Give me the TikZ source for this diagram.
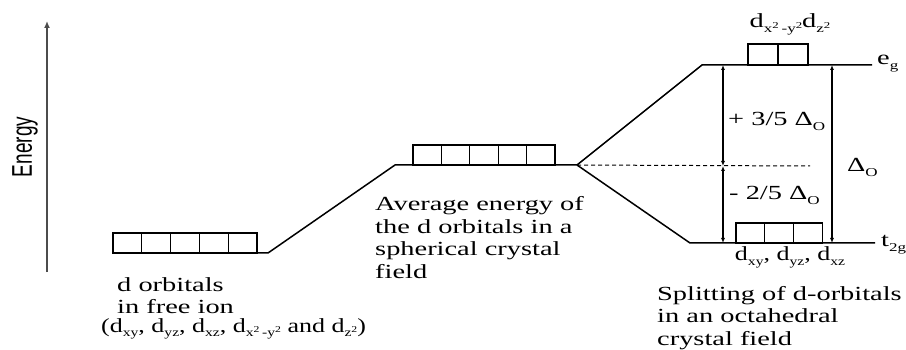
\documentclass[tikz,border=0pt]{standalone}
\usepackage{fontspec}
\setmainfont{Liberation Serif}
\setsansfont{Liberation Sans}
\usetikzlibrary{arrows.meta}
\newcommand{\sx}[1]{\scalebox{1.42}[1]{#1}}
\newcommand{\sxn}[1]{\scalebox{1.3}[1]{#1}}
\newcommand{\lns}[1]{\sx{\begin{tabular}[t]{@{}l@{}}#1\end{tabular}}}
\newcommand{\sbs}[1]{\raisebox{-4.5pt}{\fontsize{12}{12}\selectfont #1}}
\newcommand{\sps}[1]{\raisebox{4pt}{\fontsize{9}{9}\selectfont #1}}
\newcommand{\ds}[1]{d\sbs{#1}}
\begin{document}
\begin{tikzpicture}[x=1pt,y=-1pt,
  lvl/.style={line width=1.5pt},
  orb/.style={line width=1.2pt},
  dim/.style={line width=1.2pt,{Latex[length=5pt,width=4pt]}-{Latex[length=5pt,width=4pt]}},
  txt/.style={inner sep=0pt,anchor=base west,font=\fontsize{20}{22.5}\selectfont},
  ctxt/.style={txt,anchor=base}]
\useasboundingbox (0,0) rectangle (906,350);
% energy axis
\coordinate (ea) at (47,272);
\coordinate (eb) at (47,21);
\draw[line width=2.2pt,black!70,-{Latex[length=7pt,width=6pt]}] (ea) -- (eb);
\node[inner sep=0pt,font=\sffamily\fontsize{19}{20}\selectfont] (energy) at (25,147) {\scalebox{1.5}[1]{\rotatebox{90}{Energy}}};
% levels
\coordinate (l1) at (113,253); \coordinate (l2) at (268,253);
\coordinate (m1) at (395,165); \coordinate (m2) at (577,165);
\coordinate (e1) at (702,65);  \coordinate (e2) at (872,65);
\coordinate (t1) at (690,243); \coordinate (t2) at (875,243);
\draw[lvl] (l1) -- (l2) -- (m1) -- (m2) -- (e1) -- (e2);
\draw[lvl] (m2) -- (t1) -- (t2);
% boxes
\foreach \i in {0,...,4} \draw[orb] (113+\i*28.8,233) rectangle ++(28.8,20);
\foreach \i in {0,...,4} \draw[orb] (413+\i*28.4,145) rectangle ++(28.4,20);
\foreach \i in {0,1} \draw[orb] (748+\i*30,44) rectangle ++(30,21);
\foreach \i in {0,...,2} \draw[orb] (736+\i*28.7,223) rectangle ++(28.7,20);
% barycentre and arrows
\coordinate (dm) at (810,166);
\coordinate (aq) at (723,166);
\coordinate (ae) at (723,65);
\coordinate (at) at (723,243);
\coordinate (be) at (832,65);
\coordinate (bt) at (832,243);
\draw[line width=1pt,dash pattern=on 4pt off 3pt] (m2) -- (dm);
\draw[dim] (aq) -- (ae);
\draw[dim] (aq) -- (at);
\draw[dim] (be) -- (bt);
% labels
\node[txt] (fl1) at (117,291) {\lns{d orbitals\\in free ion}};
\node[txt] (fl3) at (101,332) {\sxn{(\ds{xy}, \ds{yz}, \ds{xz}, d\sbs{x\sps{2}\,-y\sps{2}} and d\sbs{z\sps{2}})}};
\node[txt] (avg) at (375,211) {\lns{Average energy of\\the d orbitals in a\\spherical crystal\\field}};
\node[txt] (spl) at (657,300) {\lns{Splitting of d-orbitals\\in an octahedral\\crystal field}};
\node[ctxt] (tlab) at (790,261) {\sxn{\ds{xy}, \ds{yz}, \ds{xz}}};
\node[ctxt] (elab) at (790,28) {\sx{d\sbs{x\sps{2}\,-y\sps{2}}d\sbs{z\sps{2}}}};
\node[txt] (p35) at (728,126) {\sx{+ 3/5 Δ\sbs{O}}};
\node[txt] (m25) at (729,200) {\sx{- 2/5 Δ\sbs{O}}};
\node[txt] (dlo) at (847,172) {\sx{Δ\sbs{O}}};
\node[txt] (eg) at (877,65) {\sx{e\sbs{g}}};
\node[txt] (t2g) at (881,247) {\sx{t\sbs{2g}}};
\end{tikzpicture}
\end{document}
